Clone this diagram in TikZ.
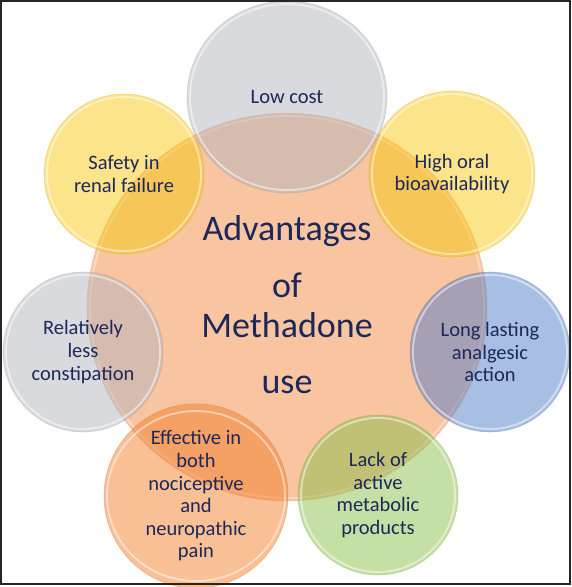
\documentclass[tikz,border=0pt]{standalone}
\usepackage{fontspec}
\setmainfont{Carlito}
\usetikzlibrary{shapes.geometric}
\definecolor{txt}{RGB}{28,40,90}
\definecolor{corefill}{RGB}{249,196,160}
\definecolor{grayc}{RGB}{179,181,189}
\definecolor{yellowc}{RGB}{247,201,19}
\definecolor{bluec}{RGB}{83,125,199}
\definecolor{greenc}{RGB}{139,191,75}
\definecolor{orangec}{RGB}{243,127,43}
\begin{document}
\begin{tikzpicture}[x=1pt,y=-1pt,
  bubble/.style={circle, inner sep=0pt, fill=#1, fill opacity=0.5, text opacity=1,
    draw=#1!75!black, draw opacity=0.28, line width=0.6pt, text=txt, align=center,
    font=\fontsize{20.5}{22.6}\selectfont},
  ebubble/.style={bubble=#1, ellipse},
  rim/.style={draw=white, draw opacity=0.5, line width=1.8pt},
  coretext/.style={anchor=base, text=txt, inner sep=0pt, font=\fontsize{36}{40}\selectfont}
]
\useasboundingbox (0,0) rectangle (572,587);
% central circle
\node[ellipse, inner sep=0pt, fill=corefill, draw=corefill!80!black, draw opacity=0.25,
      line width=0.6pt, minimum width=400pt, minimum height=388pt] (core) at (287,307) {};
\draw[rim, draw opacity=0.4] (core.center) ellipse [x radius=197, y radius=191];
% outer circles
\node[ebubble=grayc, minimum width=200pt, minimum height=192pt] (cost) at (287,97) {Low cost};
\draw[rim] (cost.center) ellipse [x radius=97, y radius=93];
\node[bubble=yellowc, minimum size=160pt] (renal) at (124,174) {Safety in\\renal failure};
\draw[rim] (renal.center) circle (77);
\node[bubble=yellowc, minimum size=166pt] (oral) at (452,174) {High oral\\bioavailability};
\draw[rim] (oral.center) circle (80);
\node[bubble=grayc, minimum size=160pt] (const) at (83,352) {Relatively\\less\\constipation};
\draw[rim] (const.center) circle (77);
\node[bubble=bluec, minimum size=160pt] (long) at (490,352) {Long lasting\\analgesic\\action};
\draw[rim] (long.center) circle (77);
\node[bubble=greenc, minimum size=160pt] (lack) at (378,495) {Lack of\\active\\metabolic\\products};
\draw[rim] (lack.center) circle (77);
\node[ebubble=orangec, minimum width=184pt, minimum height=176pt] (eff) at (196,496)
  {Effective in\\both\\nociceptive\\and\\neuropathic\\pain};
\draw[rim] (eff.center) ellipse [x radius=89, y radius=85];
% central text
\node[coretext] (t1) at (287,240) {Advantages};
\node[coretext] (t2) at (287,297) {of};
\node[coretext] (t3) at (287,337) {Methadone};
\node[coretext] (t4) at (287,393) {use};
% frame
\draw[line width=1.4pt, black!85] (1,1) rectangle (570,584);
\end{tikzpicture}
\end{document}
